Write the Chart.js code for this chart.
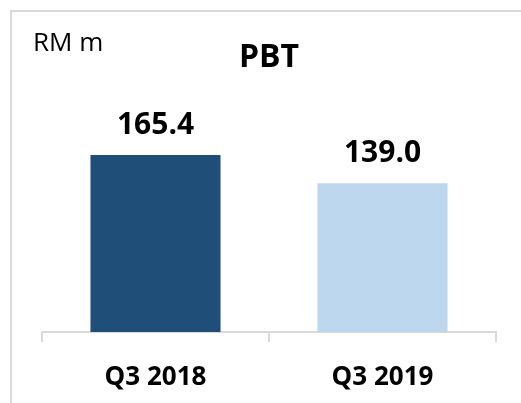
<!DOCTYPE html>
<html>
<head>
<meta charset="utf-8">
<script src="https://cdn.jsdelivr.net/npm/chart.js@4"></script>
<style>
html,body{margin:0;padding:0;background:#fff;}
#wrap{width:521px;height:403px;position:relative;}
</style>
</head>
<body>
<div id="wrap"><canvas id="c" width="521" height="403"></canvas></div>
<script>
const categories = ["Q3 2018", "Q3 2019"];
const pbtValues = [165.4, 139.0];
const valueLabels = ["165.4", "139.0"];
const barColors = ["#1F4E79", "#BDD7EE"];
const chartTitle = "PBT";
const unitLabel = "RM m";

const FONT = "'Open Sans', 'Liberation Sans', sans-serif";

const decorPlugin = {
  id: 'decor',
  beforeDraw(chart) {
    const ctx = chart.ctx;
    ctx.save();
    ctx.fillStyle = '#ffffff';
    ctx.fillRect(0, 0, chart.width, chart.height);
    ctx.strokeStyle = '#d9d9d9';
    ctx.lineWidth = 2;
    ctx.strokeRect(11, 11, 700, 700);
    ctx.restore();
  },
  afterDatasetsDraw(chart) {
    const ctx = chart.ctx;
    const area = chart.chartArea;
    ctx.save();
    ctx.fillStyle = '#000000';
    ctx.font = "26px " + FONT;
    ctx.textAlign = 'left';
    ctx.textBaseline = 'alphabetic';
    ctx.fillText(unitLabel, 33, 51);
    ctx.font = "bold 32px " + FONT;
    ctx.textAlign = 'center';
    ctx.fillText(chartTitle, (area.left + area.right) / 2, 67);
    ctx.font = "bold 30px " + FONT;
    const meta = chart.getDatasetMeta(0);
    meta.data.forEach((bar, i) => {
      ctx.fillText(valueLabels[i], bar.x, bar.y - 21);
    });
    ctx.restore();
  }
};

new Chart(document.getElementById('c'), {
  type: 'bar',
  data: {
    labels: categories,
    datasets: [{
      data: pbtValues,
      backgroundColor: barColors,
      borderWidth: 0,
      barPercentage: 0.573,
      categoryPercentage: 1.0
    }]
  },
  options: {
    responsive: false,
    animation: false,
    devicePixelRatio: 1,
    layout: { padding: { top: 75, left: 42, right: 25, bottom: 0 } },
    plugins: {
      legend: { display: false },
      title: { display: false },
      tooltip: { enabled: false }
    },
    scales: {
      x: {
        afterFit(scale) { scale.height = 71; },
        grid: {
          display: true,
          drawOnChartArea: false,
          drawTicks: true,
          tickLength: 10,
          color: '#d9d9d9',
          lineWidth: 2,
          offset: true
        },
        border: { display: true, color: '#d9d9d9', width: 2 },
        ticks: {
          color: '#000000',
          padding: 20,
          font: { family: FONT, size: 26, weight: 'bold' }
        }
      },
      y: {
        display: false,
        min: 0,
        max: 240
      }
    }
  },
  plugins: [decorPlugin]
});
</script>
</body>
</html>
